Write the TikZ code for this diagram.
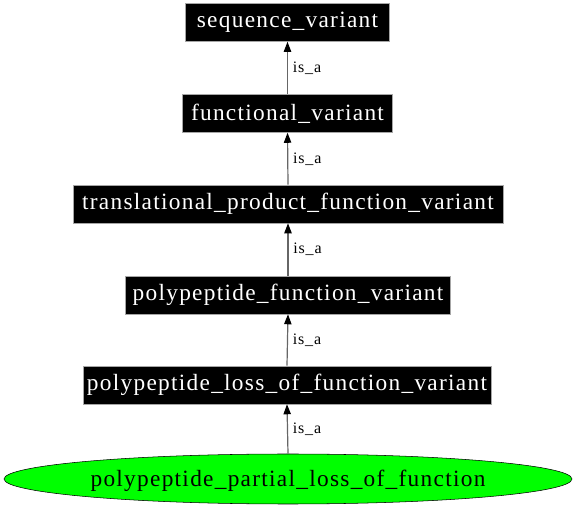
\documentclass[tikz,border=0pt]{standalone}
\usepackage{fontspec}
\setmainfont{Liberation Serif}
\newfontfamily\gvfont[LetterSpace=5.5]{Liberation Serif}
\usetikzlibrary{shapes.geometric,arrows.meta}
\begin{document}
\begin{tikzpicture}[x=0.75pt,y=-0.75pt,
  termbox/.style={draw=gray!70,fill=black,text=white,inner sep=0pt,
    font=\gvfont\fontsize{17.5}{20}\selectfont},
  leaf/.style={ellipse,draw=black,fill=green,inner sep=0pt},
  leaftext/.style={inner sep=0pt,font=\gvfont\fontsize{17.5}{20}\selectfont},
  isa/.style={draw=black!60,line width=0.9pt,-{Triangle[length=7.5pt,width=5.5pt,fill=black,color=black]}},
  lbl/.style={font=\gvfont\fontsize{12}{14}\selectfont,anchor=west,inner sep=0pt}]
\useasboundingbox (0,0) rectangle (576,506);
\node[termbox,minimum width=204*0.75pt,minimum height=38*0.75pt] (sv) at (287.5,22.5) {sequence\_variant};
\node[termbox,minimum width=210*0.75pt,minimum height=38*0.75pt] (fv) at (287.5,113.5) {functional\_variant};
\node[termbox,minimum width=430*0.75pt,minimum height=38*0.75pt] (tp) at (288,204) {translational\_product\_function\_variant};
\node[termbox,minimum width=325*0.75pt,minimum height=38*0.75pt] (pf) at (288,295) {polypeptide\_function\_variant};
\node[termbox,minimum width=408*0.75pt,minimum height=38*0.75pt] (pl) at (287,385) {polypeptide\_loss\_of\_function\_variant};
\node[leaf,minimum width=568*0.75pt,minimum height=50*0.75pt] (pp) at (288,479) {};
\node[leaftext] (ppt) at ([yshift=-1pt]pp.center) {polypeptide\_partial\_loss\_of\_function};
\draw[isa] (fv.north) -- node[lbl,xshift=3.5pt] {is\_a} (sv.south);
\draw[isa] (tp.north) -- node[lbl,xshift=3.5pt] {is\_a} (fv.south);
\draw[isa] (pf.north) -- node[lbl,xshift=3.5pt] {is\_a} (tp.south);
\draw[isa] (pl.north) -- node[lbl,xshift=3.5pt] {is\_a} (pf.south);
\draw[isa] (pp.north) -- node[lbl,xshift=3.5pt] {is\_a} (pl.south);
\end{tikzpicture}
\end{document}
